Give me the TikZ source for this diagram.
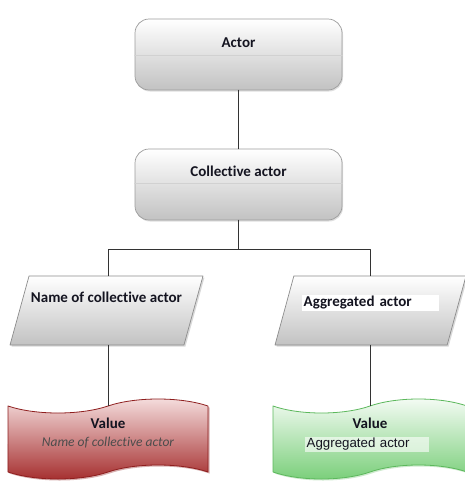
\documentclass[tikz,border=0pt]{standalone}
\usepackage{fontspec}
\setmainfont{Carlito}[Ligatures=NoCommon]
\newfontfamily\arialfont{Liberation Sans}
\usetikzlibrary{shapes.geometric,shapes.symbols,shadows,positioning}
\definecolor{boxline}{HTML}{9C9C9C}
\definecolor{boxlow}{HTML}{C2C2C2}
\definecolor{inkdark}{HTML}{141420}
\definecolor{redtop}{HTML}{F6E0E0}
\definecolor{redlow}{HTML}{A42C2C}
\definecolor{redline}{HTML}{8E1E1E}
\definecolor{greentop}{HTML}{F6FCF6}
\definecolor{greenlow}{HTML}{78CE78}
\definecolor{greenline}{HTML}{5CB85C}
\begin{document}
\begin{tikzpicture}[x=1pt,y=-1pt,line join=round,line cap=round]
				\tikzset{every node/.style={text=inkdark},
					link/.style={draw=black!80,line width=0.9pt},
					actorbox/.style={draw=boxline,line width=0.7pt,rounded corners=14pt,minimum width=207pt,minimum height=71pt,top color=white,bottom color=boxlow,drop shadow={opacity=0.25,shadow xshift=1pt,shadow yshift=-1.5pt}},
					divider/.style={draw=black!18,line width=0.7pt},
					slantbox/.style={trapezium,trapezium left angle=83,trapezium right angle=97,trapezium stretches=true,draw=black!45,line width=0.7pt,minimum width=193pt,minimum height=69pt,top color=white,bottom color=boxlow,drop shadow={opacity=0.3,shadow xshift=1.5pt,shadow yshift=-1.5pt}},
					valuetape/.style={tape,tape bend top=in and out,tape bend bottom=in and out,tape bend height=14pt,minimum width=200pt,minimum height=80pt,line width=0.8pt},
					boxtitle/.style={font=\fontsize{15}{17}\selectfont\bfseries,inner sep=1pt},
					valuenote/.style={font=\fontsize{13.5}{15}\selectfont\itshape,text=black!70,inner sep=1pt}
				}
				\useasboundingbox (0,0) rectangle (465,485);
				% top two boxes
				\node[actorbox] (actor) at (238.5,54.5) {};
				\draw[divider] ([yshift=-37pt]actor.north west) -- ([yshift=-37pt]actor.north east);
				\node[boxtitle] (actortext) at ([yshift=-24pt]actor.north) {Actor};
				\node[actorbox] (coll) at (238.5,184.5) {};
				\draw[divider] ([yshift=-35pt]coll.north west) -- ([yshift=-35pt]coll.north east);
				\node[boxtitle] (colltext) at ([yshift=-23pt]coll.north) {Collective actor};
				% parallelograms
				\node[slantbox] (namebox) at (106.5,310.5) {};
				\node[boxtitle] (nametext) at ([yshift=-22pt]namebox.north) {Name of collective actor};
				\node[slantbox,minimum width=191pt] (aggbox) at (370.5,310.5) {};
				\node[boxtitle,anchor=west,align=left,fill=white,text width=134pt,inner sep=1.5pt] (aggtext) at (302,303) {Aggregated actor};
				% value tapes
				\node[valuetape,draw=redline,top color=redtop,bottom color=redlow,drop shadow={fill=redline,opacity=0.35,shadow xshift=1.5pt,shadow yshift=-1.5pt}] (leftval) at (108,439) {};
				\node[boxtitle] (lefttitle) at ([yshift=16pt]leftval.center) {Value};
				\node[valuenote] (leftnote) at ([yshift=-4pt]leftval.center) {Name of collective actor};
				\node[valuetape,minimum width=194pt,draw=greenline,top color=greentop,bottom color=greenlow,drop shadow={fill=greenline,opacity=0.3,shadow xshift=1.5pt,shadow yshift=-1.5pt}] (rightval) at (370,439) {};
				\node[boxtitle] (righttitle) at ([yshift=16pt]rightval.center) {Value};
				\node[anchor=west,align=left,font=\arialfont\fontsize{13.3}{15}\selectfont,fill=white,fill opacity=0.6,text opacity=1,text width=121pt,inner sep=1.5pt] (rightnote) at (305,444.5) {Aggregated actor};
				% connectors
				\draw[link] (actor) -- (coll);
				\draw[link] (coll.south) -- ++(0,29) coordinate (fork);
				\draw[link] (fork) -| (leftval.north |- namebox.north);
				\draw[link] (fork) -| (rightval.north |- aggbox.north);
				\draw[link] (leftval.north |- namebox.south) -- (leftval.north);
				\draw[link] (rightval.north |- aggbox.south) -- (rightval.north);
			\end{tikzpicture}
\end{document}
